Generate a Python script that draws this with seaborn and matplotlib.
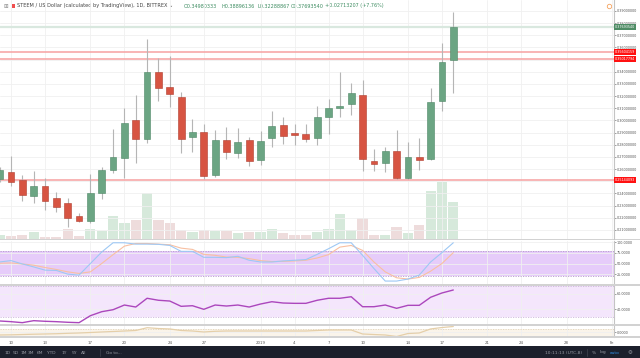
import matplotlib
matplotlib.use('Agg')
import matplotlib.pyplot as plt
import matplotlib.transforms as mtransforms
from matplotlib.patches import Rectangle
import pandas as pd
import seaborn as sns

# daily candles, 9 Dec 2018 .. 18 Jan 2019
dates = pd.date_range('2018-12-09', '2019-01-18', freq='D')
opens = [0.2519, 0.2579, 0.2511, 0.2382, 0.2462, 0.2366, 0.2324, 0.2215, 0.2176, 0.2407,
         0.2593, 0.2694, 0.3004, 0.2845, 0.3396, 0.3273, 0.3196, 0.2862, 0.2908, 0.2552,
         0.2840, 0.2735, 0.2842, 0.2678, 0.2859, 0.2963, 0.2900, 0.2887, 0.2859, 0.3026,
         0.3105, 0.3136, 0.3210, 0.2667, 0.2653, 0.2749, 0.2525, 0.2698, 0.2681, 0.3163,
         0.3498]
highs = [0.2618, 0.2711, 0.2552, 0.2585, 0.2527, 0.2415, 0.2363, 0.2240, 0.2560, 0.2620,
         0.2930, 0.3103, 0.3210, 0.3667, 0.3516, 0.3533, 0.3232, 0.3010, 0.2969, 0.2922,
         0.2944, 0.2936, 0.2867, 0.2916, 0.3078, 0.3026, 0.2971, 0.2971, 0.3119, 0.3174,
         0.3401, 0.3306, 0.3333, 0.2763, 0.2785, 0.2922, 0.2826, 0.2859, 0.3265, 0.3634,
         0.3890]
lows = [0.2494, 0.2462, 0.2341, 0.2322, 0.2264, 0.2248, 0.2125, 0.2166, 0.2158, 0.2355,
        0.2571, 0.2527, 0.2648, 0.2813, 0.3160, 0.3113, 0.2730, 0.2744, 0.2517, 0.2533,
        0.2684, 0.2689, 0.2628, 0.2637, 0.2785, 0.2804, 0.2799, 0.2821, 0.2796, 0.2889,
        0.3031, 0.3045, 0.2585, 0.2587, 0.2579, 0.2517, 0.2517, 0.2593, 0.2675, 0.3078,
        0.3229]
closes = [0.2593, 0.2497, 0.2388, 0.2462, 0.2341, 0.2292, 0.2201, 0.2174, 0.2402, 0.2593,
          0.2698, 0.2977, 0.2845, 0.3396, 0.3265, 0.3218, 0.2845, 0.2908, 0.2546, 0.2840,
          0.2739, 0.2823, 0.2670, 0.2834, 0.2957, 0.2875, 0.2883, 0.2850, 0.3026, 0.3105,
          0.3122, 0.3224, 0.2681, 0.2642, 0.2749, 0.2525, 0.2698, 0.2675, 0.3155, 0.3483,
          0.3769]
volume = [3.3, 2.7, 4.0, 6.3, 1.7, 1.7, 10.0, 2.7, 10.0, 8.0,
          22.7, 16.0, 18.7, 45.7, 18.3, 15.3, 9.0, 6.7, 8.3, 7.3,
          7.3, 5.7, 6.3, 6.7, 9.3, 6.0, 3.3, 3.3, 6.7, 10.0,
          25.0, 9.0, 20.7, 4.0, 4.0, 11.7, 5.3, 14.0, 47.7, 56.7,
          36.7]
stoch_k = [53.6, 56.8, 49.0, 42.0, 34.4, 33.7, 25.0, 22.8, 50.0, 77.0,
           98.7, 98.7, 95.5, 95.5, 95.0, 92.4, 78.5, 78.5, 64.5, 64.5,
           63.8, 66.9, 57.6, 53.6, 53.6, 56.0, 57.6, 59.2, 71.5, 84.7,
           98.7, 98.7, 69.2, 38.3, 8.8, 8.8, 13.5, 22.8, 53.6, 75.5,
           98.7]
stoch_d = [50.6, 51.3, 49.0, 46.0, 40.6, 36.0, 30.4, 26.7, 30.4, 50.0,
           70.8, 90.8, 97.0, 97.0, 95.5, 94.0, 86.1, 83.1, 71.5, 69.2,
           65.2, 64.5, 61.5, 56.8, 54.6, 55.0, 56.0, 57.6, 63.0, 70.8,
           88.5, 92.4, 80.8, 53.6, 30.4, 16.5, 13.5, 17.4, 32.0, 50.0,
           75.5]
rsi = [24.4, 23.5, 22.2, 24.8, 24.0, 23.5, 22.7, 22.2, 31.3, 36.5,
       39.1, 45.2, 42.6, 54.0, 51.4, 50.4, 43.5, 44.3, 39.6, 45.2,
       43.9, 45.2, 42.6, 46.5, 49.5, 47.8, 47.4, 47.4, 51.4, 54.0,
       54.0, 56.0, 43.0, 43.0, 45.2, 40.9, 44.8, 44.8, 55.3, 60.9,
       64.8]
osc = [-0.80, -0.75, -0.66, -0.57, -0.50, -0.42, -0.30, -0.20, -0.06, 0.10,
       0.24, 0.39, 0.54, 1.37, 1.13, 1.00, 0.54, 0.39, 0.10, 0.30,
       0.39, 0.39, 0.39, 0.39, 0.39, 0.39, 0.39, 0.39, 0.54, 0.69,
       0.69, 0.69, -0.50, -0.66, -0.80, -1.25, -0.36, -0.20, 1.00, 1.43,
       1.73]

price_ticks = [0.21, 0.22, 0.23, 0.24, 0.25, 0.26, 0.27, 0.28, 0.29, 0.30,
               0.31, 0.32, 0.33, 0.34, 0.35, 0.36, 0.37, 0.38, 0.39]
tick_dates = pd.to_datetime(['2018-12-10', '2018-12-13', '2018-12-17', '2018-12-20',
                             '2018-12-24', '2018-12-27', '2019-01-01', '2019-01-04',
                             '2019-01-07', '2019-01-10', '2019-01-14', '2019-01-17',
                             '2019-01-21', '2019-01-24', '2019-01-28', '2019-02-01'])
tick_labels = ['10', '13', '17', '20', '24', '27', '2019', '4', '7', '10', '14', '17',
               '21', '24', '28', 'Fe']
red_levels = [0.35604159, 0.35017794, 0.25144093]
last_close = 0.37693540

sns.set_theme(style='white')
plt.rcParams['font.family'] = ['DejaVu Sans']

UP, DOWN = '#6ba583', '#d75442'
AXFS = 2.45
W, H = 640, 358
fig = plt.figure(figsize=(W / 100, H / 100), dpi=100)


def px_axes(x0, y0, x1, y1):
    return fig.add_axes([x0 / W, 1 - y1 / H, (x1 - x0) / W, (y1 - y0) / H])


x_left = pd.Timestamp('2018-12-10') - pd.Timedelta(days=0.97)
x_right = pd.Timestamp('2018-12-10') + pd.Timedelta(days=53.17)

ax = px_axes(0, 0, 614, 238.5)
ax_s = px_axes(0, 240.5, 614, 284)
ax_r = px_axes(0, 285.5, 614, 324)
ax_o = px_axes(0, 325.5, 614, 336.5)

# volume behind candles (twin of the price pane)
ax_v = ax.twinx()
vol_colors = ['#d6e9db' if c >= o else '#eedcdc' for o, c in zip(opens, closes)]
ax_v.bar(dates, volume, width=0.9, color=vol_colors, linewidth=0)
ax_v.set_ylim(0, 238.5)
ax_v.axis('off')
ax.set_zorder(ax_v.get_zorder() + 1)
ax.patch.set_visible(False)

for a in (ax, ax_s, ax_r, ax_o):
    a.set_xlim(x_left, x_right)
    a.set_xticks(tick_dates)
    a.grid(True, color='#f0f0f0', lw=0.6)
    a.set_axisbelow(True)
    a.yaxis.tick_right()
    a.tick_params(axis='y', labelsize=AXFS, length=1.2, width=0.4, pad=1.0,
                  colors='#555555', left=False, labelleft=False,
                  right=True, labelright=True)
    a.tick_params(axis='x', length=0, labelbottom=False)
    for s in ('top', 'left', 'bottom'):
        a.spines[s].set_visible(False)
    a.spines['right'].set_color('#c4c4c4')
    a.spines['right'].set_linewidth(0.8)

# candles
up = [c >= o for o, c in zip(opens, closes)]
body_lo = [min(o, c) for o, c in zip(opens, closes)]
body_h = [max(abs(c - o), 0.0005) for o, c in zip(opens, closes)]
ax.vlines(dates, lows, highs, color='#b5b5b5', lw=0.8, zorder=2)
ax.bar(dates, body_h, bottom=body_lo, width=0.6,
       color=[UP if u else DOWN for u in up],
       edgecolor=['#4d8765' if u else '#b03d2e' for u in up], linewidth=0.4, zorder=3)
ax.set_ylim(0.2030, 0.3990)
ax.set_yticks(price_ticks)
# the 0.35 and 0.25 ticks sit under the red level tags
ax.set_yticklabels(['' if p in (0.25, 0.35) else f'{p:.8f}' for p in price_ticks])

blend = mtransforms.blended_transform_factory(ax.transAxes, ax.transData)
ax.axhline(last_close, color='#d9e8df', lw=1.6, zorder=1)
ax.text(1.002, last_close, f'{last_close:.8f}', transform=blend, fontsize=AXFS,
        color='white', va='center', ha='left', clip_on=False, zorder=10,
        bbox=dict(boxstyle='square,pad=0.3', fc='#4f8c65', ec='none'))
for lv in red_levels:
    ax.axhline(lv, color='#f6a0a0', lw=1.1, zorder=1)
    ax.text(1.002, lv, f'{lv:.8f}', transform=blend, fontsize=AXFS, color='white',
            va='center', ha='left', clip_on=False, zorder=10,
            bbox=dict(boxstyle='square,pad=0.3', fc='#ff1111', ec='none'))

# stochastic
ax_s.axhspan(20, 80, color='#e6ccfa', lw=0, zorder=0)
for lv in (20, 80):
    ax_s.axhline(lv, color='#b69ccb', lw=0.6, ls=(0, (1.5, 1.5)), zorder=1)
sns.lineplot(x=dates, y=stoch_d, ax=ax_s, color='#f8c0a2', lw=0.8)
sns.lineplot(x=dates, y=stoch_k, ax=ax_s, color='#9ec8f4', lw=0.8)
ax_s.set_ylim(1.9, 104)
ax_s.set_yticks([25, 50, 75, 100])
ax_s.set_yticklabels(['25.0000', '50.0000', '75.0000', '100.0000'])

# RSI
ax_r.axhspan(30, 70, color='#f4e6fc', lw=0, zorder=0)
for lv in (30, 70):
    ax_r.axhline(lv, color='#cdb6dc', lw=0.6, ls=(0, (1.5, 1.5)), zorder=1)
sns.lineplot(x=dates, y=rsi, ax=ax_r, color='#ab47bc', lw=1.0)
ax_r.set_ylim(20.46, 70.65)
ax_r.set_yticks([40, 60])
ax_r.set_yticklabels(['40.0000', '60.0000'])

# bottom oscillator
ax_o.axhspan(-1, 1, color='#faf4ea', lw=0, zorder=0)
for lv in (-1, 1):
    ax_o.axhline(lv, color='#e2d3bb', lw=0.6, ls=(0, (1.5, 1.5)), zorder=1)
sns.lineplot(x=dates, y=osc, ax=ax_o, color='#e5cfa9', lw=0.9)
ax_o.set_ylim(-1.25, 2.03)
ax_o.set_yticks([0])
ax_o.set_yticklabels(['0.0000'])
ax_o.tick_params(axis='x', labelbottom=True, labelsize=2.8, pad=3.2, colors='#555555')
ax_o.set_xticklabels(tick_labels)

for a in (ax, ax_s, ax_r, ax_o):
    a.set_xlabel('')
    a.set_ylabel('')

# overlay: separators, header, toolbar
ov = fig.add_axes([0, 0, 1, 1])
ov.set_xlim(0, W)
ov.set_ylim(H, 0)
ov.axis('off')
ov.patch.set_visible(False)
for y in (238.8, 284.3, 324.4, 336.2):
    ov.add_patch(Rectangle((0, y), 640, 1.4, fc='#d2d2d2', ec='none'))
ov.add_patch(Rectangle((0, 346), 640, 12, fc='#1c202c', ec='none'))

ov.text(3.5, 6, '⊞', fontsize=4, color='#888888', va='center', ha='left')
ov.add_patch(Rectangle((12, 4), 3, 4, fc='#f05050', ec='none'))
ov.text(17, 6, 'STEEM / US Dollar (calculated by TradingView), 1D, BITTREX ⌄',
        fontsize=3.6, color='#444444', va='center', ha='left')
hdr_color = '#3f8d62'
for x, s in [(184, 'O0.34980333'), (222, 'H0.38896136'), (257, 'L0.32288867'),
             (291, 'C0.37693540'), (325, '+0.02713207 (+7.76%)')]:
    ov.text(x, 6, s, fontsize=3.5, color=hdr_color, va='center', ha='left')
ov.plot(609, 6, 'o', ms=3.2, mfc='none', mec='#f5a25d', mew=0.6)

tb = '#9598a1'
for x, s in [(8, '1D'), (15.5, '5D'), (23.5, '1M'), (31, '3M'), (40, '6M'),
             (51.5, 'YTD'), (64, '1Y'), (74, '5Y'), (84, 'All'), (114, 'Go to...')]:
    ov.text(x, 352.5, s, fontsize=3.2, color=tb, va='center', ha='center')
ov.plot([100, 100], [349, 356], color='#3a3e4a', lw=0.6)
ov.plot([587, 587], [349, 356], color='#3a3e4a', lw=0.6)
ov.text(564, 352.5, '10:11:13 (UTC-8)', fontsize=3.2, color=tb, va='center', ha='center')
ov.text(594, 352.5, '%', fontsize=3.2, color=tb, va='center', ha='center')
ov.text(603, 352.5, 'log', fontsize=3.2, color=tb, va='center', ha='center')
ov.text(615, 352.5, 'auto', fontsize=3.2, color='#2f8de4', va='center', ha='center')
ov.text(630, 352.5, '⚙', fontsize=4, color=tb, va='center', ha='center')

fig.savefig('out.png', dpi=100)
